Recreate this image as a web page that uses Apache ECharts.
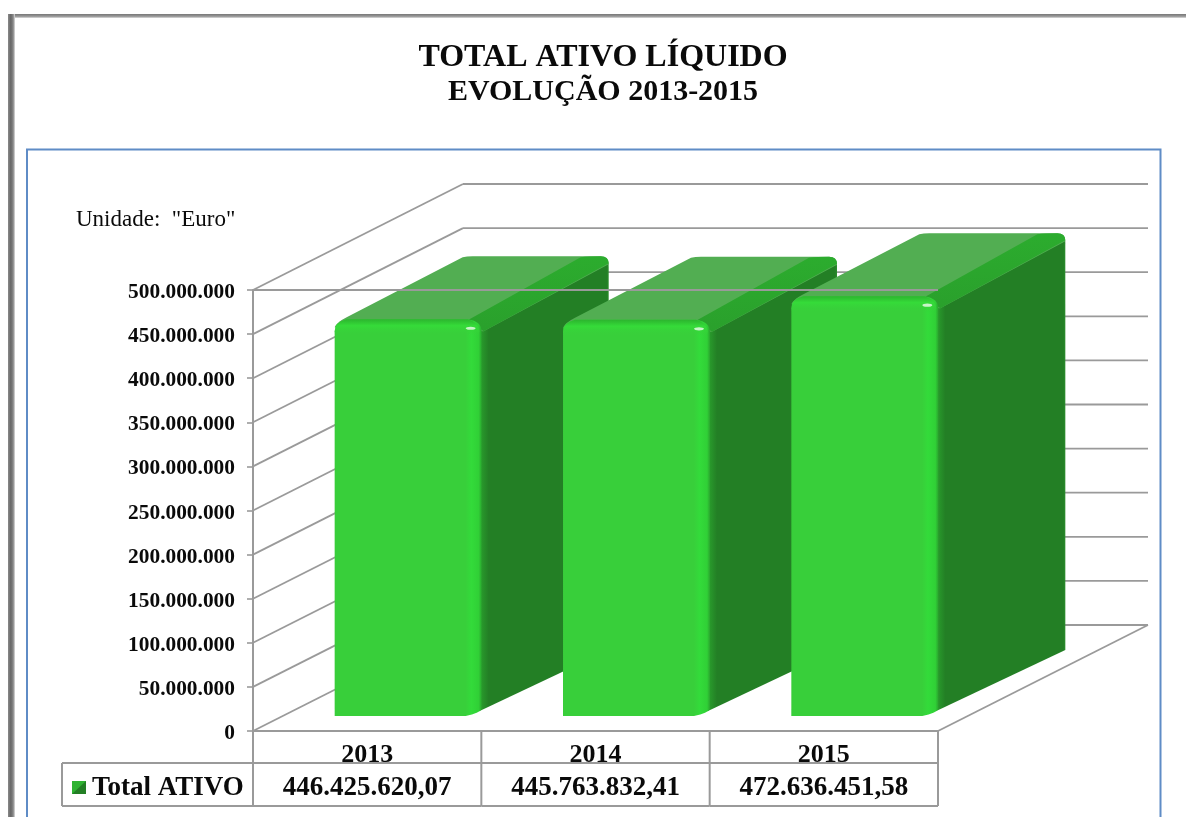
<!DOCTYPE html>
<html>
<head>
<meta charset="utf-8">
<style>html,body{margin:0;padding:0;background:#fff}#c{width:1186px;height:817px}</style>
<script src="https://cdn.jsdelivr.net/npm/echarts@6/dist/echarts.min.js"></script>
</head>
<body>
<div id="c"></div>
<script>
const categories = ['2013', '2014', '2015'];
const totalAtivo = [446425620.07, 445763832.41, 472636451.58];
const seriesName = 'Total ATIVO';
const yTicks = [0, 50000000, 100000000, 150000000, 200000000, 250000000, 300000000, 350000000, 400000000, 450000000, 500000000];
const titleText = 'TOTAL ATIVO LÍQUIDO';
const subtitleText = 'EVOLUÇÃO 2013-2015';
const unitText = 'Unidade:  "Euro"';

const SERIF = '"Liberation Serif","Times New Roman",serif';
const GRAY = '#9a9a9a';
const INK = '#0a0a0a';
const WALL = [210, -106];
const BAR_W = 147, BAR_SHIFT = 41, BAR_LIFT_BASE = 15, BAR_LIFT_TOP = 18;
const DEPTH = [127, -63];

function dots(n) { return String(n).replace(/\B(?=(\d{3})+$)/g, '.'); }
function euro(n) {
  const p = n.toFixed(2).split('.');
  return dots(p[0]) + ',' + p[1];
}
function grad(x, y, x2, y2, stops) {
  return { type: 'linear', x, y, x2, y2, colorStops: stops.map(s => ({ offset: s[0], color: s[1] })) };
}
function line(x1, y1, x2, y2, w) {
  return { type: 'line', shape: { x1, y1, x2, y2 }, style: { stroke: GRAY, lineWidth: w || 1.8 } };
}

function renderWall(p, a) {
  const g = p.coordSys;
  const v = a.value(1);
  const y = a.coord([0, v])[1];
  const l = g.x, r = g.x + g.width;
  const kids = [
    line(l, y, l + WALL[0], y + WALL[1]),
    line(l + WALL[0], y + WALL[1], r + WALL[0], y + WALL[1])
  ];
  if (v === 0) kids.push(line(r, y, r + WALL[0], y + WALL[1]));
  return { type: 'group', children: kids };
}

function renderBar(params, api) {
  const c = api.coord([api.value(0), api.value(1)]);
  const base = api.coord([api.value(0), 0]);
  const cx = c[0] + BAR_SHIFT;
  const L = cx - BAR_W / 2, R = cx + BAR_W / 2;
  const T = c[1] - BAR_LIFT_TOP, B = base[1] - BAR_LIFT_BASE;
  const dx = DEPTH[0], dy = DEPTH[1];
  const side = {
    type: 'path',
    shape: { pathData: `M${R - 2} ${T + 8} L${R + dx - 1} ${T + dy + 6} Q${R + dx} ${T + dy + 6} ${R + dx} ${T + dy + 10} L${R + dx} ${B + dy - 3} L${R - 2} ${B - 5} Z` },
    style: { fill: grad(0, 0, 1, 0, [[0, '#2aa02d'], [0.07, '#237f25'], [0.985, '#237f25'], [1, '#2c8f2e']]) }
  };
  const top = {
    type: 'path',
    shape: { pathData: `M${L} ${T + 8} Q${L + 2} ${T + 3} ${L + 12} ${T - 2} L${L + 128} ${T + dy + 1} Q${L + 132} ${T + dy} ${L + 138} ${T + dy} L${R + dx - 8} ${T + dy} Q${R + dx} ${T + dy} ${R + dx} ${T + dy + 8} L${R + 2} ${T + 12} Z` },
    style: { fill: '#52ae52' }
  };
  const topRight = {
    type: 'path',
    shape: { pathData: `M${R - 14} ${T + 1} L${R + dx - 28} ${T + dy + 1} Q${R + dx - 20} ${T + dy} ${R + dx - 8} ${T + dy} Q${R + dx} ${T + dy} ${R + dx} ${T + dy + 7} L${R + 2} ${T + 12} Z` },
    style: { fill: grad(0, 0, 0, 1, [[0, '#2cac2e'], [1, '#2aa02c']]) }
  };
  const front = {
    type: 'path',
    shape: { pathData: `M${L} ${T + 12} Q${L} ${T + 3} ${L + 12} ${T} L${R - 14} ${T} Q${R} ${T + 2} ${R} ${T + 12} L${R} ${B - 7} Q${R - 2} ${B - 3} ${R - 16} ${B} L${L} ${B} Z` },
    style: { fill: grad(0, 0, 1, 0, [[0, '#37cb39'], [0.01, '#38cf3a'], [0.89, '#38cf3a'], [0.93, '#33db3a'], [0.98, '#30d036'], [1, '#2aa52e']]) }
  };
  const bevel = {
    type: 'path',
    shape: { pathData: `M${L} ${T + 16} L${L} ${T + 12} Q${L} ${T + 3} ${L + 12} ${T} L${R - 14} ${T} Q${R - 4} ${T + 2} ${R - 2} ${T + 12} L${R - 4} ${T + 16} Z` },
    style: { fill: grad(0, 0, 0, 1, [[0, '#2cb52e'], [0.4, '#35db39'], [1, 'rgba(56,207,58,0)']]) }
  };
  const glint = {
    type: 'ellipse',
    shape: { cx: R - 11, cy: T + 9, rx: 5, ry: 1.6 },
    style: { fill: '#c8f5c8' }
  };
  return { type: 'group', children: [side, top, topRight, front, bevel, glint] };
}

function renderFrontEdge(params) {
  const g = params.coordSys;
  return line(g.x, g.y, g.x + g.width, g.y, 1.8);
}

function renderTable(params, api) {
  const g = params.coordSys;
  const i = api.value(0);
  const band = g.width / categories.length;
  const y0 = g.y + g.height, y1 = y0 + 32, y2 = y0 + 75;
  const cx = api.coord([i, 0])[0];
  const xr = cx + band / 2;
  const kids = [
    line(xr, y0, xr, y2, 2),
    line(cx - band / 2, y2, xr, y2, 2),
    line(cx - band / 2, y1, xr, y1, 2),
    { type: 'text', style: { text: euro(api.value(1)), x: cx, y: y1 + 25, font: 'bold 27px ' + SERIF, fill: INK, textAlign: 'center', textVerticalAlign: 'middle' } }
  ];
  if (i === 0) {
    const xl = g.x - 191;
    kids.push(
      line(g.x, y0, g.x, y2, 2),
      line(xl, y1, g.x, y1, 2),
      line(xl, y2, g.x, y2, 2),
      line(xl, y1, xl, y2, 2),
      { type: 'text', style: { text: seriesName, x: xl + 30, y: y1 + 25, font: 'bold 27px ' + SERIF, fill: INK, textAlign: 'left', textVerticalAlign: 'middle' } },
      { type: 'rect', shape: { x: xl + 10, y: y1 + 18, width: 14, height: 13 }, style: { fill: '#2fb332' } },
      { type: 'polygon', shape: { points: [[xl + 10, y1 + 31], [xl + 24, y1 + 18], [xl + 24, y1 + 31]] }, style: { fill: '#237f25' } }
    );
  }
  return { type: 'group', children: kids };
}

const option = {
  animation: false,
  backgroundColor: '#fff',
  title: {
    text: titleText,
    subtext: subtitleText,
    left: 598,
    top: 37,
    textAlign: 'center',
    itemGap: 3,
    textStyle: { fontFamily: SERIF, fontWeight: 'bold', fontSize: 32, color: INK },
    subtextStyle: { fontFamily: SERIF, fontWeight: 'bold', fontSize: 30, color: INK }
  },
  graphic: [
    { type: 'rect', z: -5, shape: { x: 8, y: 14, width: 1178, height: 4 }, style: { fill: grad(0, 0, 0, 1, [[0, '#777'], [0.6, '#999'], [1, '#ddd']]) } },
    { type: 'rect', z: -5, shape: { x: 8, y: 14, width: 7, height: 803 }, style: { fill: grad(0, 0, 1, 0, [[0, '#8a8a8a'], [0.4, '#666'], [0.75, '#8a8a8a'], [1, '#e0e0e0']]) } },
    { type: 'rect', z: -5, shape: { x: 27, y: 149.5, width: 1133.5, height: 680 }, style: { fill: 'none', stroke: '#5f8cc6', lineWidth: 2 } },
    { type: 'text', z: 5, style: { text: unitText, x: 76, y: 220, font: '23px ' + SERIF, fill: INK, textAlign: 'left', textVerticalAlign: 'middle' } }
  ],
  grid: { left: 253, top: 290, width: 685, height: 441, containLabel: false },
  xAxis: {
    type: 'category',
    data: categories,
    axisLine: { lineStyle: { color: GRAY, width: 2 } },
    axisTick: { show: false },
    axisLabel: { margin: 11, fontFamily: SERIF, fontWeight: 'bold', fontSize: 26, color: INK }
  },
  yAxis: {
    type: 'value',
    min: 0,
    max: 500000000,
    interval: 50000000,
    splitLine: { show: false },
    axisLine: { show: true, lineStyle: { color: GRAY, width: 2 } },
    axisTick: { show: true, length: 6, lineStyle: { color: GRAY, width: 1.6 } },
    axisLabel: { margin: 18, verticalAlign: 'top', lineHeight: 5, formatter: v => dots(v), fontFamily: SERIF, fontWeight: 'bold', fontSize: 21.4, color: INK }
  },
  series: [
    { type: 'custom', name: 'walls', z: 1, silent: true, coordinateSystem: 'cartesian2d', encode: { x: 0, y: 1 }, data: yTicks.map(v => [0, v]), renderItem: renderWall },
    { type: 'custom', name: seriesName, z: 2, silent: true, coordinateSystem: 'cartesian2d', encode: { x: 0, y: 1 }, data: categories.map((c, i) => [i, totalAtivo[i]]), renderItem: renderBar },
    { type: 'custom', name: 'edge', z: 3, silent: true, coordinateSystem: 'cartesian2d', data: [[0, 500000000]], encode: { x: 0, y: 1 }, renderItem: renderFrontEdge },
    { type: 'custom', name: 'table', z: 4, silent: true, coordinateSystem: 'cartesian2d', encode: { x: 0, y: 1 }, data: categories.map((c, i) => [i, totalAtivo[i]]), renderItem: renderTable }
  ]
};
echarts.init(document.getElementById('c'), null, { renderer: 'canvas' }).setOption(option);
</script>
</body>
</html>
